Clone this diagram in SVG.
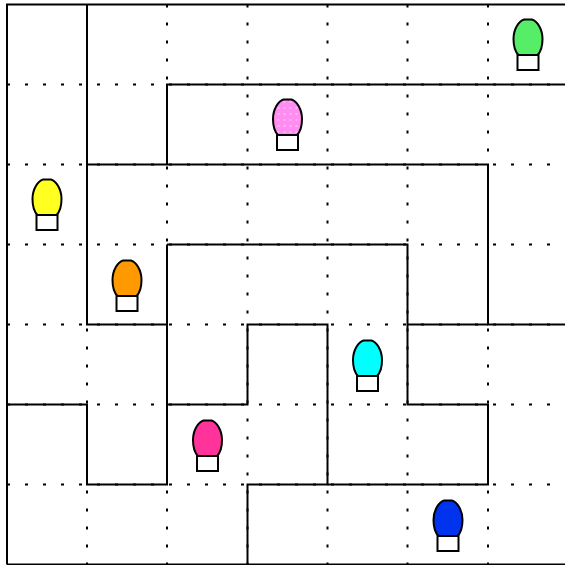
<svg xmlns="http://www.w3.org/2000/svg" width="565" height="565" viewBox="0 0 565 565">
<style>
.grid{fill:none;stroke:#000;stroke-width:2;stroke-dasharray:3 15}
.wall{fill:none;stroke:#000;stroke-width:2}
.egg{stroke:#000;stroke-width:2}
.box{fill:#fff;stroke:#000;stroke-width:2}
</style>
<defs>
<pattern id="pinkdots" width="6" height="6" patternUnits="userSpaceOnUse">
<rect width="6" height="6" fill="#ff8cf0"/>
<rect x="2" y="2" width="2" height="2" fill="#ffb0f6"/>
</pattern>
<g id="bulb">
<rect class="box" x="-10.5" y="35" width="21" height="16"/>
<path class="egg" d="M-4,0.5 L4,0.5 C9,2 14.5,10 14.5,20 C14.5,28 12.5,33 9.5,36 L-9.5,36 C-12.5,33 -14.5,28 -14.5,20 C-14.5,10 -9,2 -4,0.5 Z"/>
</g>
</defs>
<rect width="565" height="565" fill="#fff"/>
<g id="connectors">
<path class="grid" d="M7,84.5H565M7,164.5H565M7,244.5H565M7,324.5H565M7,404.5H565M7,484.5H565"/>
<path class="grid" d="M87,4.5V564M167,4.5V564M247.5,4.5V564M327.5,4.5V564M407.5,4.5V564M488,4.5V564"/>
<path class="wall" d="M7,564.5V4.5H565M7,564.5H565"/>
<path class="wall" d="M87,4.5V324.5H167M87,164.5H488V324.5H565M167,164.5V84.5H565"/>
<path class="wall" d="M167,244.5V484.5H87V404.5H7M167,244.5H407.5V404.5H488V484.5H327.5M407.5,324.5H488"/>
<path class="wall" d="M167,404.5H247.5V324.5H327.5V484.5H247.5V564.5"/>
</g>
<g id="bulb-green" transform="translate(528,19)"><use href="#bulb" fill="#55ee66"/></g>
<g id="bulb-pink" transform="translate(287.5,99)"><use href="#bulb" fill="url(#pinkdots)"/></g>
<g id="bulb-yellow" transform="translate(47,179)"><use href="#bulb" fill="#ffff22"/></g>
<g id="bulb-orange" transform="translate(127,260)"><use href="#bulb" fill="#ff9900"/></g>
<g id="bulb-cyan" transform="translate(367.5,340)"><use href="#bulb" fill="#00ffff"/></g>
<g id="bulb-magenta" transform="translate(207.5,420)"><use href="#bulb" fill="#ff3399"/></g>
<g id="bulb-blue" transform="translate(448,500)"><use href="#bulb" fill="#0033ee"/></g>
</svg>
